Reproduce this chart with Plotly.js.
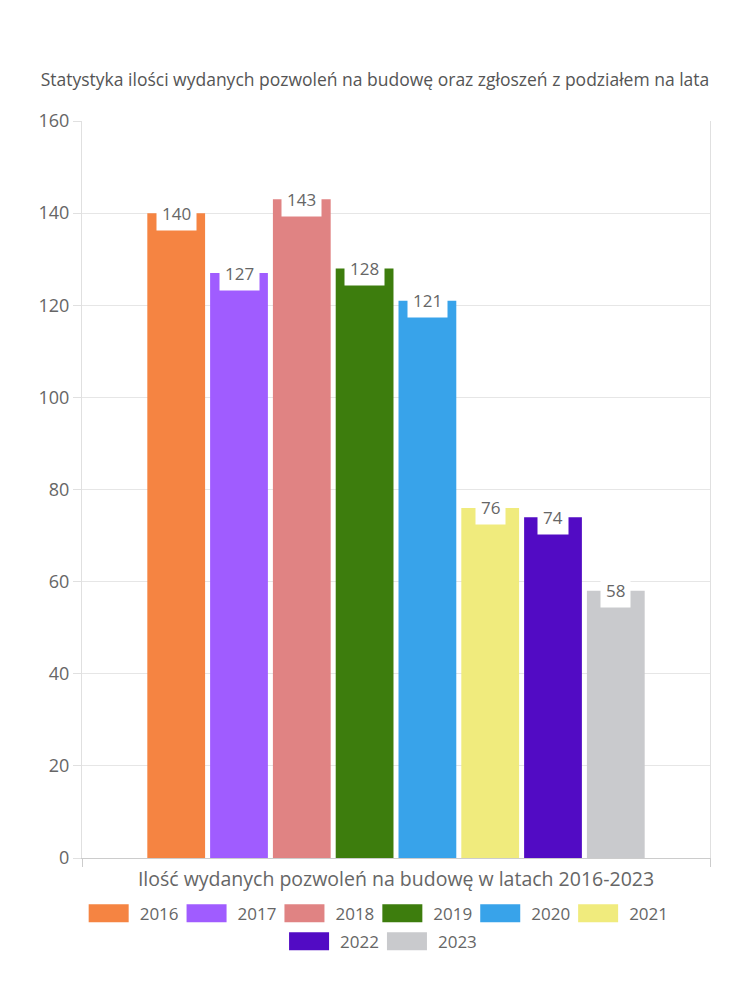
<!DOCTYPE html>
<html><head><meta charset="utf-8">
<script src="https://cdn.plot.ly/plotly-3.0.1.min.js"></script>
<style>html,body{margin:0;padding:0;background:#fff;}#chart{width:750px;height:1000px;}</style>
</head><body><div id="chart"></div>
<script>
const years = ['2016','2017','2018','2019','2020','2021','2022','2023'];
const values = [140, 127, 143, 128, 121, 76, 74, 58];
const colors = ['#F58442','#A05CFF','#E08383','#3D7D0D','#38A3EA','#F0EB7D','#520BC4','#C9CACD'];
const category = ['Ilość wydanych pozwoleń na budowę w latach 2016-2023'];
const chartTitle = 'Statystyka ilości wydanych pozwoleń na budowę oraz zgłoszeń z podziałem na lata';
const yTicks = [0,20,40,60,80,100,120,140,160];

const FONT = '"Open Sans", sans-serif';
const bargap = 0.2;
const n = years.length;

const traces = years.map((y, i) => ({
  type: 'bar', name: y, x: category, y: [values[i]],
  marker: {color: colors[i]},
  legend: i < 6 ? 'legend' : 'legend2',
  hoverinfo: 'none'
}));

const annotations = years.map((y, i) => ({
  xref: 'x', yref: 'y',
  x: -(1 - bargap)/2 + (i + 0.5) * (1 - bargap)/n,
  y: values[i],
  text: String(values[i]),
  showarrow: false,
  yanchor: 'middle', xanchor: 'center',
  bgcolor: '#ffffff', borderpad: 5, yshift: 0,
  font: {family: FONT, size: 17, color: '#666'}
}));

const legendCommon = {orientation: 'h', xanchor: 'center', yanchor: 'top', xref: 'paper', yref: 'paper',
  bgcolor: 'rgba(0,0,0,0)', font: {family: FONT, size: 17, color: '#666'}, itemwidth: 44,
  itemclick: false, itemdoubleclick: false};

const layout = {
  width: 750, height: 1000,
  margin: {l: 82, r: 40, t: 121, b: 142},
  paper_bgcolor: '#fff', plot_bgcolor: '#fff',
  font: {family: FONT, color: '#666', size: 16},
  title: {text: chartTitle, x: 0.5, xanchor: 'center', y: 0.92, yanchor: 'middle', font: {family: FONT, size: 17.5, color: '#555'}},
  bargap: bargap, bargroupgap: 0.08, barmode: 'group',
  xaxis: {
    type: 'category', range: [-0.5, 0.5], showticklabels: false,
    showline: true, linecolor: '#ccc', linewidth: 1,
    ticks: 'outside', ticklen: 8, tickcolor: '#ccc', tickson: 'boundaries',
    showgrid: false, zeroline: false,
    title: {text: category[0], standoff: 14, font: {family: FONT, size: 19.5, color: '#666'}}
  },
  yaxis: {
    range: [0, 160], tickvals: yTicks, ticktext: yTicks.map(String),
    showgrid: true, gridcolor: '#e6e6e6', zeroline: false,
    showline: true, linecolor: '#e0e0e0', mirror: true,
    ticks: 'outside', ticklen: 8, tickcolor: '#e0e0e0',
    tickfont: {family: FONT, size: 18, color: '#666'}
  },
  legend: Object.assign({}, legendCommon, {x: 0.474, y: -0.051}),
  legend2: Object.assign({}, legendCommon, {x: 0.481, y: -0.089}),
  annotations: annotations,
  showlegend: true
};

Plotly.newPlot('chart', traces, layout, {displayModeBar: false, staticPlot: true}).then(gd => {
  document.querySelectorAll('.legendpoints path').forEach(p => {
    p.setAttribute('d', 'M16,9H-24V-9H16Z');
  });
});
</script></body></html>
